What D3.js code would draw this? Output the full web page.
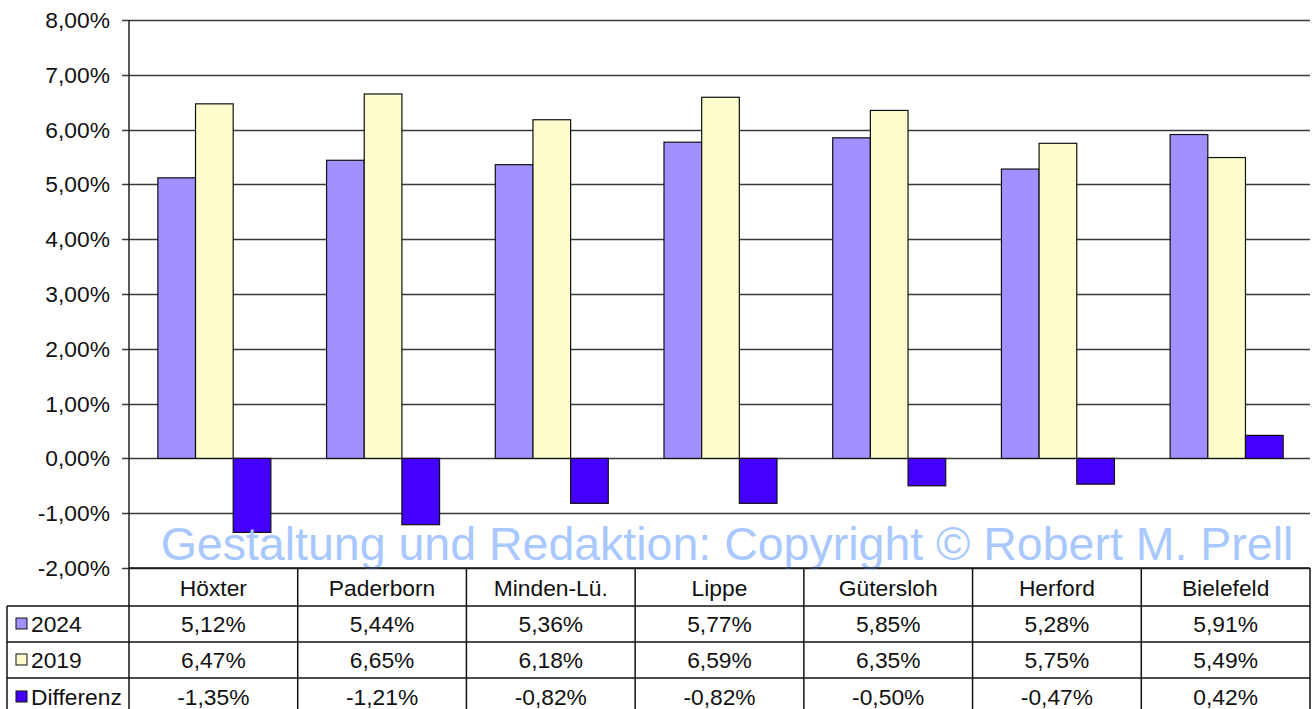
<!DOCTYPE html>
<html>
<head>
<meta charset="utf-8">
<script src="https://cdn.jsdelivr.net/npm/d3@7"></script>
<style>
  body { margin: 0; background: #fff; }
  svg { display: block; font-family: "Liberation Sans", Arial, sans-serif; }
</style>
</head>
<body>
<svg width="1314" height="709"></svg>
<script>
// data
var regions = ["Höxter", "Paderborn", "Minden-Lü.", "Lippe", "Gütersloh", "Herford", "Bielefeld"];
var seriesNames = ["2024", "2019", "Differenz"];
var v2024 = [5.12, 5.44, 5.36, 5.77, 5.85, 5.28, 5.91];
var v2019 = [6.47, 6.65, 6.18, 6.59, 6.35, 5.75, 5.49];
var vDiff = [-1.35, -1.21, -0.82, -0.82, -0.50, -0.47, 0.42];
var yTicks = [8, 7, 6, 5, 4, 3, 2, 1, 0, -1, -2];
var colors = ["#a190ff", "#fcfccc", "#4300ff"];

var svg = d3.select("svg");
var plotLeft = 129, plotRight = 1310, plotTop = 20, plotBottom = 568;
var series = [v2024, v2019, vDiff];
var fs = 22.8;

var fmt = function (v) { return d3.format(".2f")(v).replace(".", ",").replace("−", "-") + "%"; };

var x = d3.scaleBand().domain(regions).range([plotLeft, plotRight]);
var xs = d3.scaleBand().domain(seriesNames).range([0, 113]);
var y = d3.scaleLinear().domain([-2, 8]).range([plotBottom, plotTop]);

// gridlines
svg.append("g").selectAll("line").data(yTicks).enter().append("line")
    .attr("x1", plotLeft - 7).attr("x2", plotRight)
    .attr("y1", d => Math.round(y(d)) + 0.5).attr("y2", d => Math.round(y(d)) + 0.5)
    .attr("stroke", "#3a3a3a").attr("stroke-width", 1.3);

// y labels
svg.append("g").selectAll("text").data(yTicks).enter().append("text")
    .attr("x", 110).attr("y", d => y(d) + 8)
    .attr("text-anchor", "end").attr("font-size", fs).attr("fill", "#111")
    .text(d => fmt(d));

// bars
var groups = svg.append("g").selectAll("g").data(series).enter().append("g")
    .attr("fill", (d, i) => colors[i]);
groups.each(function (vals, si) {
    d3.select(this).selectAll("rect").data(vals).enter().append("rect")
        .attr("x", (d, i) => x(regions[i]) + (x.bandwidth() - 113) / 2 + xs(seriesNames[si]) + 1)
        .attr("width", xs.bandwidth())
        .attr("y", d => y(Math.max(0, d)))
        .attr("height", d => Math.abs(y(d) - y(0)))
        .attr("stroke", "#111").attr("stroke-width", 1.2);
});

// y axis line
svg.append("line").attr("x1", plotLeft).attr("x2", plotLeft).attr("y1", plotTop).attr("y2", plotBottom)
    .attr("stroke", "#222").attr("stroke-width", 1.5);

// watermark
svg.append("text").attr("x", 727).attr("y", 560)
    .attr("text-anchor", "middle").attr("font-size", 46.5)
    .attr("fill", "#a8c8ff")
    .text("Gestaltung und Redaktion: Copyright © Robert M. Prell");

// data table
var rowY = [568, 606, 642, 678, 716];
var tbl = svg.append("g").attr("stroke", "#111").attr("stroke-width", 1.5);
tbl.append("line").attr("x1", plotLeft).attr("x2", plotRight).attr("y1", rowY[0]).attr("y2", rowY[0]);
[1, 2, 3].forEach(function (r) {
    tbl.append("line").attr("x1", 7).attr("x2", plotRight).attr("y1", rowY[r]).attr("y2", rowY[r]);
});
tbl.append("line").attr("x1", 7).attr("x2", 7).attr("y1", rowY[1]).attr("y2", 709);
tbl.selectAll(".v").data(regions).enter().append("line")
    .attr("x1", d => x(d)).attr("x2", d => x(d)).attr("y1", rowY[0]).attr("y2", 709);
tbl.append("line").attr("x1", plotRight).attr("x2", plotRight).attr("y1", rowY[0]).attr("y2", 709);

svg.append("g").selectAll("text").data(regions).enter().append("text")
    .attr("x", d => x(d) + x.bandwidth() / 2).attr("y", 596)
    .attr("text-anchor", "middle").attr("font-size", fs).attr("fill", "#111")
    .text(d => d);

series.forEach(function (vals, si) {
    var cy = (rowY[si + 1] + rowY[si + 2]) / 2 + 8;
    svg.append("rect").attr("x", 16).attr("y", cy - 14).attr("width", 11).attr("height", 11)
        .attr("fill", colors[si]).attr("stroke", "#111").attr("stroke-width", 1);
    svg.append("text").attr("x", 31).attr("y", cy).attr("font-size", fs).attr("fill", "#111")
        .text(seriesNames[si]);
    svg.append("g").selectAll("text").data(vals).enter().append("text")
        .attr("x", (d, i) => x(regions[i]) + x.bandwidth() / 2).attr("y", cy)
        .attr("text-anchor", "middle").attr("font-size", fs).attr("fill", "#111")
        .text(d => fmt(d));
});
</script>
</body>
</html>
